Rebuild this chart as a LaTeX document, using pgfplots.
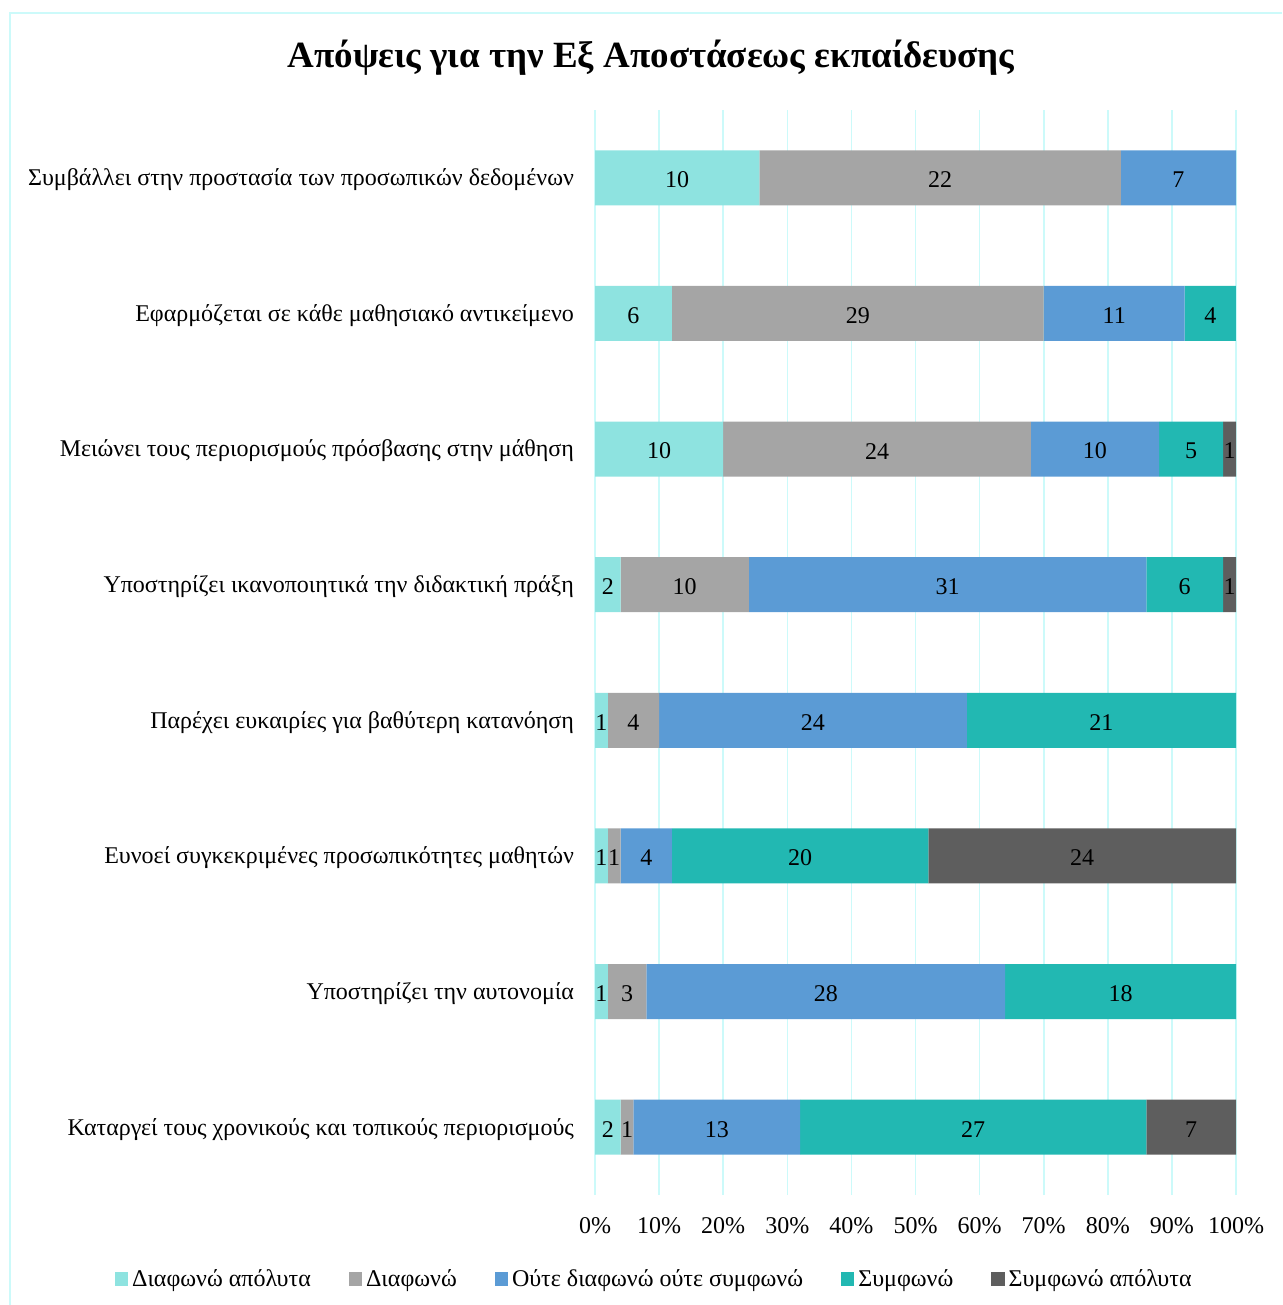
\documentclass[border=0pt]{standalone}
\usepackage{fontspec}
\setmainfont{Liberation Serif}
\usepackage{pgfplots}
\usepackage{pgfplotstable}
\pgfplotsset{compat=1.18}

\definecolor{cA}{HTML}{8EE3E0}
\definecolor{cB}{HTML}{A5A5A5}
\definecolor{cC}{HTML}{5B9BD5}
\definecolor{cD}{HTML}{22B8B2}
\definecolor{cE}{HTML}{5E5E5E}
\definecolor{gridc}{HTML}{CCFAFA}

% counts per statement; la..le are the bar labels ({} = no label)
\pgfplotstableread{
y a b c d e t la lb lc ld le
0 2 1 13 27 7 50 2 1 13 27 7
1 1 3 28 18 0 50 1 3 28 18 {}
2 1 1 4 20 24 50 1 1 4 20 24
3 1 4 24 21 0 50 1 4 24 21 {}
4 2 10 31 6 1 50 2 10 31 6 1
5 10 24 10 5 1 50 10 24 10 5 1
6 6 29 11 4 0 50 6 29 11 4 {}
7 10 22 7 0 0 39 10 22 7 {} {}
}\data

\pgfplotsset{
  panel/.style={
    at={(297.5pt,55pt)}, anchor=south west,
    scale only axis,
    width=320.5pt, height=542.5pt,
    xmin=0, xmax=100,
    ymin=-0.5, ymax=7.5,
  }
}

\begin{document}
\begin{tikzpicture}
\path[use as bounding box] (0,0) rectangle (641pt,652.5pt);
\draw[gridc, line width=1pt] (5pt,0) -- (5pt,646pt) -- (641pt,646pt);
\node[font=\bfseries\fontsize{18.5}{21}\selectfont] at (325.5pt,623.5pt)
  {Απόψεις για την Εξ Αποστάσεως εκπαίδευσης};
\begin{axis}[
  panel,
  xbar stacked,
  bar width=27.5pt,
  xtick={0,10,...,100},
  xticklabel={\pgfmathprintnumber{\tick}\%},
  ytick={0,...,7},
  yticklabels={
    Καταργεί τους χρονικούς και τοπικούς περιορισμούς,
    Υποστηρίζει την αυτονομία,
    Ευνοεί συγκεκριμένες προσωπικότητες μαθητών,
    Παρέχει ευκαιρίες για βαθύτερη κατανόηση,
    Υποστηρίζει ικανοποιητικά την διδακτική πράξη,
    Μειώνει τους περιορισμούς πρόσβασης στην μάθηση,
    Εφαρμόζεται σε κάθε μαθησιακό αντικείμενο,
    Συμβάλλει στην προστασία των προσωπικών δεδομένων},
  /pgf/number format/assume math mode=true,
  tick label style={font=\fontsize{12}{14}\selectfont},
  xticklabel style={yshift=-7.5pt},
  yticklabel style={xshift=-7pt, yshift=-1pt},
  major tick length=0pt,
  axis line style={draw=none},
  xmajorgrids, grid style={gridc, line width=0.8pt},
  legend columns=5,
  legend style={draw=none, fill=none, font=\fontsize{12}{14}\selectfont,
    at={(0.094,-0.0775)}, anchor=center,
    /tikz/every even column/.append style={column sep=17pt}},
  legend image code/.code={\fill[#1] (0pt,-3.3pt) rectangle (6.6pt,3.3pt);},
  legend cell align=left,
]
\addplot[draw=none, fill=cA] table[y=y, x expr=\thisrow{a}/\thisrow{t}*100] {\data};
\addplot[draw=none, fill=cB] table[y=y, x expr=\thisrow{b}/\thisrow{t}*100] {\data};
\addplot[draw=none, fill=cC] table[y=y, x expr=\thisrow{c}/\thisrow{t}*100] {\data};
\addplot[draw=none, fill=cD] table[y=y, x expr=\thisrow{d}/\thisrow{t}*100] {\data};
\addplot[draw=none, fill=cE] table[y=y, x expr=\thisrow{e}/\thisrow{t}*100] {\data};
\legend{Διαφωνώ απόλυτα, Διαφωνώ, Ούτε διαφωνώ ούτε συμφωνώ, Συμφωνώ, Συμφωνώ απόλυτα}
\end{axis}
% value labels at the middle of each segment
\begin{axis}[
  panel, hide axis,
  point meta=explicit symbolic,
  nodes near coords,
  nodes near coords style={font=\fontsize{12}{14}\selectfont, text=black, anchor=center, yshift=-1pt},
]
\addplot[only marks, mark=none] table[y=y, x expr=(\thisrow{a}/2)/\thisrow{t}*100, meta=la] {\data};
\addplot[only marks, mark=none] table[y=y, x expr=(\thisrow{a}+\thisrow{b}/2)/\thisrow{t}*100, meta=lb] {\data};
\addplot[only marks, mark=none] table[y=y, x expr=(\thisrow{a}+\thisrow{b}+\thisrow{c}/2)/\thisrow{t}*100, meta=lc] {\data};
\addplot[only marks, mark=none] table[y=y, x expr=(\thisrow{a}+\thisrow{b}+\thisrow{c}+\thisrow{d}/2)/\thisrow{t}*100, meta=ld] {\data};
\addplot[only marks, mark=none] table[y=y, x expr=(\thisrow{a}+\thisrow{b}+\thisrow{c}+\thisrow{d}+\thisrow{e}/2)/\thisrow{t}*100, meta=le] {\data};
\end{axis}
\end{tikzpicture}
\end{document}
